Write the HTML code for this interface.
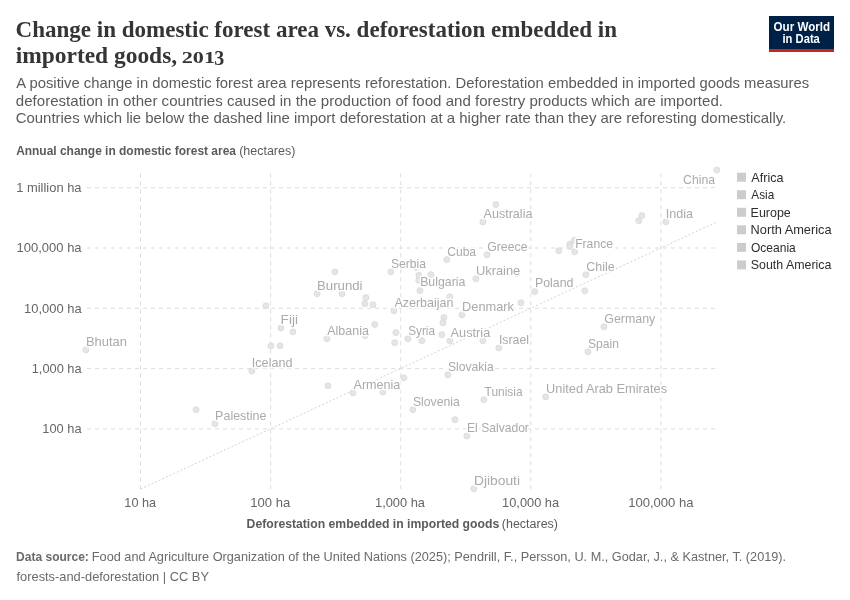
<!DOCTYPE html><html><head><meta charset="utf-8"><title>Change in domestic forest area vs. deforestation embedded in imported goods, 2013</title><style>html,body{margin:0;padding:0;background:#fff;width:850px;height:600px;overflow:hidden}svg{display:block;will-change:transform}</style></head><body>
<svg width="850" height="600" viewBox="0 0 850 600">
<rect width="850" height="600" fill="#fff"/>
<rect x="769" y="16" width="65" height="36" fill="#002147"/>
<rect x="769" y="49" width="65" height="3" fill="#c9261f"/>
<text x="15.59" y="36.9" font-family="'Liberation Serif'" font-size="24" font-weight="bold" fill="#353535" textLength="601.38" lengthAdjust="spacingAndGlyphs">Change in domestic forest area vs. deforestation embedded in</text>
<text x="15.73" y="62.8" font-family="'Liberation Serif'" font-size="24" font-weight="bold" fill="#353535" textLength="161.41" lengthAdjust="spacingAndGlyphs">imported goods,</text>
<text x="181.66" y="62.8" font-family="'Liberation Serif'" font-size="17.4" font-weight="bold" fill="#353535" textLength="33.35" lengthAdjust="spacingAndGlyphs">201</text>
<text x="214.30" y="65.3" font-family="'Liberation Serif'" font-size="21.1" font-weight="bold" fill="#353535" textLength="9.97" lengthAdjust="spacingAndGlyphs">3</text>
<text x="16.24" y="87.9" font-family="'Liberation Sans'" font-size="14.8" font-weight="normal" fill="#5b5b5b" textLength="792.97" lengthAdjust="spacingAndGlyphs">A positive change in domestic forest area represents reforestation. Deforestation embedded in imported goods measures</text>
<text x="15.81" y="105.6" font-family="'Liberation Sans'" font-size="14.8" font-weight="normal" fill="#5b5b5b" textLength="707.20" lengthAdjust="spacingAndGlyphs">deforestation in other countries caused in the production of food and forestry products which are imported.</text>
<text x="15.70" y="123.4" font-family="'Liberation Sans'" font-size="14.8" font-weight="normal" fill="#5b5b5b" textLength="770.59" lengthAdjust="spacingAndGlyphs">Countries which lie below the dashed line import deforestation at a higher rate than they are reforesting domestically.</text>
<text x="773.57" y="30.7" font-family="'Liberation Sans'" font-size="12" font-weight="bold" fill="#fff" textLength="56.55" lengthAdjust="spacingAndGlyphs">Our World</text>
<text x="782.51" y="42.8" font-family="'Liberation Sans'" font-size="12" font-weight="bold" fill="#fff" textLength="37.35" lengthAdjust="spacingAndGlyphs">in Data</text>
<text x="16.13" y="154.8" font-family="'Liberation Sans'" font-size="12" font-weight="bold" fill="#5b5b5b" textLength="219.81" lengthAdjust="spacingAndGlyphs">Annual change in domestic forest area</text>
<text x="239.18" y="154.8" font-family="'Liberation Sans'" font-size="12" font-weight="normal" fill="#5b5b5b" textLength="56.18" lengthAdjust="spacingAndGlyphs">(hectares)</text>
<text x="246.59" y="528.3" font-family="'Liberation Sans'" font-size="12" font-weight="bold" fill="#5b5b5b" textLength="252.61" lengthAdjust="spacingAndGlyphs">Deforestation embedded in imported goods</text>
<text x="501.88" y="528.3" font-family="'Liberation Sans'" font-size="12" font-weight="normal" fill="#5b5b5b" textLength="56.07" lengthAdjust="spacingAndGlyphs">(hectares)</text>
<text x="16.22" y="192.0" font-family="'Liberation Sans'" font-size="12.6" font-weight="normal" fill="#666" textLength="65.29" lengthAdjust="spacingAndGlyphs">1 million ha</text>
<text x="16.52" y="252.3" font-family="'Liberation Sans'" font-size="12.6" font-weight="normal" fill="#666" textLength="65.09" lengthAdjust="spacingAndGlyphs">100,000 ha</text>
<text x="24.02" y="312.6" font-family="'Liberation Sans'" font-size="12.6" font-weight="normal" fill="#666" textLength="57.59" lengthAdjust="spacingAndGlyphs">10,000 ha</text>
<text x="31.73" y="372.8" font-family="'Liberation Sans'" font-size="12.6" font-weight="normal" fill="#666" textLength="49.87" lengthAdjust="spacingAndGlyphs">1,000 ha</text>
<text x="42.33" y="433.0" font-family="'Liberation Sans'" font-size="12.6" font-weight="normal" fill="#666" textLength="39.19" lengthAdjust="spacingAndGlyphs">100 ha</text>
<text x="124.34" y="507.3" font-family="'Liberation Sans'" font-size="12.6" font-weight="normal" fill="#666" textLength="31.76" lengthAdjust="spacingAndGlyphs">10 ha</text>
<text x="250.21" y="507.3" font-family="'Liberation Sans'" font-size="12.6" font-weight="normal" fill="#666" textLength="40.01" lengthAdjust="spacingAndGlyphs">100 ha</text>
<text x="375.03" y="507.3" font-family="'Liberation Sans'" font-size="12.6" font-weight="normal" fill="#666" textLength="49.97" lengthAdjust="spacingAndGlyphs">1,000 ha</text>
<text x="502.13" y="507.3" font-family="'Liberation Sans'" font-size="12.6" font-weight="normal" fill="#666" textLength="56.97" lengthAdjust="spacingAndGlyphs">10,000 ha</text>
<text x="628.21" y="507.3" font-family="'Liberation Sans'" font-size="12.6" font-weight="normal" fill="#666" textLength="65.30" lengthAdjust="spacingAndGlyphs">100,000 ha</text>
<text x="751.35" y="181.5" font-family="'Liberation Sans'" font-size="12.6" font-weight="normal" fill="#2d2d2d" textLength="32.21" lengthAdjust="spacingAndGlyphs">Africa</text>
<text x="751.37" y="199.04" font-family="'Liberation Sans'" font-size="12.6" font-weight="normal" fill="#2d2d2d" textLength="22.80" lengthAdjust="spacingAndGlyphs">Asia</text>
<text x="750.57" y="216.57999999999998" font-family="'Liberation Sans'" font-size="12.6" font-weight="normal" fill="#2d2d2d" textLength="40.27" lengthAdjust="spacingAndGlyphs">Europe</text>
<text x="750.55" y="234.12" font-family="'Liberation Sans'" font-size="12.6" font-weight="normal" fill="#2d2d2d" textLength="80.96" lengthAdjust="spacingAndGlyphs">North America</text>
<text x="750.99" y="251.66" font-family="'Liberation Sans'" font-size="12.6" font-weight="normal" fill="#2d2d2d" textLength="44.79" lengthAdjust="spacingAndGlyphs">Oceania</text>
<text x="750.74" y="269.2" font-family="'Liberation Sans'" font-size="12.6" font-weight="normal" fill="#2d2d2d" textLength="80.64" lengthAdjust="spacingAndGlyphs">South America</text>
<text x="16.10" y="560.7" font-family="'Liberation Sans'" font-size="12.6" font-weight="bold" fill="#6a6a6a" textLength="72.76" lengthAdjust="spacingAndGlyphs">Data source:</text>
<text x="91.85" y="560.7" font-family="'Liberation Sans'" font-size="12.6" font-weight="normal" fill="#6a6a6a" textLength="694.26" lengthAdjust="spacingAndGlyphs">Food and Agriculture Organization of the United Nations (2025); Pendrill, F., Persson, U. M., Godar, J., &amp; Kastner, T. (2019).</text>
<text x="16.50" y="580.5" font-family="'Liberation Sans'" font-size="12.6" font-weight="normal" fill="#6a6a6a" textLength="192.47" lengthAdjust="spacingAndGlyphs">forests-and-deforestation | CC BY</text>
<g stroke="#dddddd" stroke-width="1" stroke-dasharray="4,4" fill="none">
<line x1="87" y1="187.7" x2="715" y2="187.7"/>
<line x1="87" y1="248.0" x2="715" y2="248.0"/>
<line x1="87" y1="308.3" x2="715" y2="308.3"/>
<line x1="87" y1="368.6" x2="715" y2="368.6"/>
<line x1="87" y1="428.9" x2="715" y2="428.9"/>
<line x1="140.5" y1="173.3" x2="140.5" y2="489"/>
<line x1="270.6" y1="173.3" x2="270.6" y2="489"/>
<line x1="400.7" y1="173.3" x2="400.7" y2="489"/>
<line x1="530.8" y1="173.3" x2="530.8" y2="489"/>
<line x1="660.9" y1="173.3" x2="660.9" y2="489"/>
</g>
<line x1="140.5" y1="489" x2="716" y2="222.4" stroke="#d3d3d3" stroke-width="1" stroke-dasharray="2,2"/>
<g fill="#e5e5e5" stroke="#d3d3d3" stroke-width="0.6">
<circle cx="85.9" cy="349.9" r="3.05"/>
<circle cx="196.1" cy="409.7" r="3.05"/>
<circle cx="215" cy="423.7" r="3.05"/>
<circle cx="251.9" cy="371" r="3.05"/>
<circle cx="265.9" cy="305.8" r="3.05"/>
<circle cx="280.9" cy="327.9" r="3.05"/>
<circle cx="292.9" cy="331.8" r="3.05"/>
<circle cx="270.9" cy="345.8" r="3.05"/>
<circle cx="280" cy="345.8" r="3.05"/>
<circle cx="334.9" cy="271.8" r="3.05"/>
<circle cx="317.1" cy="293.8" r="3.05"/>
<circle cx="342" cy="293.8" r="3.05"/>
<circle cx="365.9" cy="297.6" r="3.05"/>
<circle cx="364.8" cy="303.8" r="3.05"/>
<circle cx="372.9" cy="304.7" r="3.05"/>
<circle cx="390.9" cy="271.8" r="3.05"/>
<circle cx="416" cy="267.5" r="3.05"/>
<circle cx="418.9" cy="275.4" r="3.05"/>
<circle cx="430.9" cy="274.6" r="3.05"/>
<circle cx="418.8" cy="280.3" r="3.05"/>
<circle cx="419.9" cy="290.6" r="3.05"/>
<circle cx="393.9" cy="310.8" r="3.05"/>
<circle cx="374.8" cy="324.5" r="3.05"/>
<circle cx="326.9" cy="338.8" r="3.05"/>
<circle cx="365.1" cy="335.6" r="3.05"/>
<circle cx="395.9" cy="332.6" r="3.05"/>
<circle cx="407.9" cy="338.8" r="3.05"/>
<circle cx="421.8" cy="340.7" r="3.05"/>
<circle cx="394.7" cy="342.7" r="3.05"/>
<circle cx="327.9" cy="385.8" r="3.05"/>
<circle cx="352.9" cy="392.9" r="3.05"/>
<circle cx="382.9" cy="392.1" r="3.05"/>
<circle cx="403.9" cy="377.7" r="3.05"/>
<circle cx="412.9" cy="409.7" r="3.05"/>
<circle cx="443.9" cy="317.6" r="3.05"/>
<circle cx="442.9" cy="322.8" r="3.05"/>
<circle cx="441.8" cy="334.7" r="3.05"/>
<circle cx="450" cy="340.9" r="3.05"/>
<circle cx="462" cy="314.9" r="3.05"/>
<circle cx="482.9" cy="340.8" r="3.05"/>
<circle cx="498.8" cy="347.9" r="3.05"/>
<circle cx="520.9" cy="302.8" r="3.05"/>
<circle cx="447.9" cy="374.9" r="3.05"/>
<circle cx="483.8" cy="399.8" r="3.05"/>
<circle cx="455" cy="419.7" r="3.05"/>
<circle cx="466.9" cy="435.9" r="3.05"/>
<circle cx="545.7" cy="396.9" r="3.05"/>
<circle cx="587.9" cy="351.8" r="3.05"/>
<circle cx="603.9" cy="326.8" r="3.05"/>
<circle cx="584.8" cy="290.8" r="3.05"/>
<circle cx="446.8" cy="259.6" r="3.05"/>
<circle cx="449.8" cy="296.8" r="3.05"/>
<circle cx="482.9" cy="221.9" r="3.05"/>
<circle cx="495.9" cy="204.6" r="3.05"/>
<circle cx="487" cy="254.8" r="3.05"/>
<circle cx="475.9" cy="278.8" r="3.05"/>
<circle cx="517" cy="273.5" r="3.05"/>
<circle cx="534.7" cy="291.6" r="3.05"/>
<circle cx="558.8" cy="250.7" r="3.05"/>
<circle cx="569.8" cy="244.1" r="3.05"/>
<circle cx="569.7" cy="246.6" r="3.05"/>
<circle cx="574.3" cy="240.2" r="3.05"/>
<circle cx="574.7" cy="251.8" r="3.05"/>
<circle cx="585.9" cy="274.7" r="3.05"/>
<circle cx="641.8" cy="215.6" r="3.05"/>
<circle cx="638.8" cy="220.8" r="3.05"/>
<circle cx="665.9" cy="221.8" r="3.05"/>
<circle cx="716.8" cy="170" r="3.05"/>
<circle cx="473.8" cy="488.8" r="3.05"/>
</g>
<g stroke="#fff" stroke-width="3" paint-order="stroke" stroke-linejoin="round">
<text x="85.98" y="345.9" font-family="'Liberation Sans'" font-size="12.6" font-weight="normal" fill="#aaaaaa" textLength="41.02" lengthAdjust="spacingAndGlyphs">Bhutan</text>
<text x="215.12" y="419.6" font-family="'Liberation Sans'" font-size="12.6" font-weight="normal" fill="#aaaaaa" textLength="51.39" lengthAdjust="spacingAndGlyphs">Palestine</text>
<text x="251.77" y="366.7" font-family="'Liberation Sans'" font-size="12.6" font-weight="normal" fill="#aaaaaa" textLength="40.77" lengthAdjust="spacingAndGlyphs">Iceland</text>
<text x="280.63" y="323.6" font-family="'Liberation Sans'" font-size="12.6" font-weight="normal" fill="#aaaaaa" textLength="17.38" lengthAdjust="spacingAndGlyphs">Fiji</text>
<text x="317.06" y="289.7" font-family="'Liberation Sans'" font-size="12.6" font-weight="normal" fill="#aaaaaa" textLength="45.51" lengthAdjust="spacingAndGlyphs">Burundi</text>
<text x="390.90" y="267.6" font-family="'Liberation Sans'" font-size="12.6" font-weight="normal" fill="#aaaaaa" textLength="35.13" lengthAdjust="spacingAndGlyphs">Serbia</text>
<text x="420.13" y="286.4" font-family="'Liberation Sans'" font-size="12.6" font-weight="normal" fill="#aaaaaa" textLength="45.29" lengthAdjust="spacingAndGlyphs">Bulgaria</text>
<text x="394.40" y="306.5" font-family="'Liberation Sans'" font-size="12.6" font-weight="normal" fill="#aaaaaa" textLength="59.09" lengthAdjust="spacingAndGlyphs">Azerbaijan</text>
<text x="327.30" y="334.7" font-family="'Liberation Sans'" font-size="12.6" font-weight="normal" fill="#aaaaaa" textLength="41.53" lengthAdjust="spacingAndGlyphs">Albania</text>
<text x="408.23" y="334.5" font-family="'Liberation Sans'" font-size="12.6" font-weight="normal" fill="#aaaaaa" textLength="26.81" lengthAdjust="spacingAndGlyphs">Syria</text>
<text x="353.50" y="388.5" font-family="'Liberation Sans'" font-size="12.6" font-weight="normal" fill="#aaaaaa" textLength="46.82" lengthAdjust="spacingAndGlyphs">Armenia</text>
<text x="412.90" y="405.6" font-family="'Liberation Sans'" font-size="12.6" font-weight="normal" fill="#aaaaaa" textLength="46.92" lengthAdjust="spacingAndGlyphs">Slovenia</text>
<text x="462.09" y="310.5" font-family="'Liberation Sans'" font-size="12.6" font-weight="normal" fill="#aaaaaa" textLength="51.95" lengthAdjust="spacingAndGlyphs">Denmark</text>
<text x="450.60" y="336.5" font-family="'Liberation Sans'" font-size="12.6" font-weight="normal" fill="#aaaaaa" textLength="39.62" lengthAdjust="spacingAndGlyphs">Austria</text>
<text x="498.89" y="343.8" font-family="'Liberation Sans'" font-size="12.6" font-weight="normal" fill="#aaaaaa" textLength="30.20" lengthAdjust="spacingAndGlyphs">Israel</text>
<text x="447.90" y="370.6" font-family="'Liberation Sans'" font-size="12.6" font-weight="normal" fill="#aaaaaa" textLength="45.93" lengthAdjust="spacingAndGlyphs">Slovakia</text>
<text x="484.57" y="395.6" font-family="'Liberation Sans'" font-size="12.6" font-weight="normal" fill="#aaaaaa" textLength="37.98" lengthAdjust="spacingAndGlyphs">Tunisia</text>
<text x="467.05" y="431.9" font-family="'Liberation Sans'" font-size="12.6" font-weight="normal" fill="#aaaaaa" textLength="61.86" lengthAdjust="spacingAndGlyphs">El Salvador</text>
<text x="546.07" y="392.8" font-family="'Liberation Sans'" font-size="12.6" font-weight="normal" fill="#aaaaaa" textLength="120.99" lengthAdjust="spacingAndGlyphs">United Arab Emirates</text>
<text x="588.00" y="347.6" font-family="'Liberation Sans'" font-size="12.6" font-weight="normal" fill="#aaaaaa" textLength="31.00" lengthAdjust="spacingAndGlyphs">Spain</text>
<text x="604.28" y="322.6" font-family="'Liberation Sans'" font-size="12.6" font-weight="normal" fill="#aaaaaa" textLength="50.99" lengthAdjust="spacingAndGlyphs">Germany</text>
<text x="447.20" y="255.6" font-family="'Liberation Sans'" font-size="12.6" font-weight="normal" fill="#aaaaaa" textLength="28.91" lengthAdjust="spacingAndGlyphs">Cuba</text>
<text x="483.50" y="217.6" font-family="'Liberation Sans'" font-size="12.6" font-weight="normal" fill="#aaaaaa" textLength="48.92" lengthAdjust="spacingAndGlyphs">Australia</text>
<text x="487.18" y="250.5" font-family="'Liberation Sans'" font-size="12.6" font-weight="normal" fill="#aaaaaa" textLength="40.33" lengthAdjust="spacingAndGlyphs">Greece</text>
<text x="475.96" y="274.7" font-family="'Liberation Sans'" font-size="12.6" font-weight="normal" fill="#aaaaaa" textLength="44.33" lengthAdjust="spacingAndGlyphs">Ukraine</text>
<text x="534.93" y="287.4" font-family="'Liberation Sans'" font-size="12.6" font-weight="normal" fill="#aaaaaa" textLength="38.52" lengthAdjust="spacingAndGlyphs">Poland</text>
<text x="575.15" y="247.6" font-family="'Liberation Sans'" font-size="12.6" font-weight="normal" fill="#aaaaaa" textLength="37.86" lengthAdjust="spacingAndGlyphs">France</text>
<text x="586.28" y="270.6" font-family="'Liberation Sans'" font-size="12.6" font-weight="normal" fill="#aaaaaa" textLength="28.53" lengthAdjust="spacingAndGlyphs">Chile</text>
<text x="665.77" y="217.6" font-family="'Liberation Sans'" font-size="12.6" font-weight="normal" fill="#aaaaaa" textLength="27.35" lengthAdjust="spacingAndGlyphs">India</text>
<text x="683.09" y="183.5" font-family="'Liberation Sans'" font-size="12.6" font-weight="normal" fill="#aaaaaa" textLength="31.93" lengthAdjust="spacingAndGlyphs">China</text>
<text x="473.91" y="484.8" font-family="'Liberation Sans'" font-size="12.6" font-weight="normal" fill="#aaaaaa" textLength="46.12" lengthAdjust="spacingAndGlyphs">Djibouti</text>
</g>
<rect x="737" y="172.70" width="9" height="9" fill="#cccccc"/>
<rect x="737" y="190.24" width="9" height="9" fill="#cccccc"/>
<rect x="737" y="207.78" width="9" height="9" fill="#cccccc"/>
<rect x="737" y="225.32" width="9" height="9" fill="#cccccc"/>
<rect x="737" y="242.86" width="9" height="9" fill="#cccccc"/>
<rect x="737" y="260.40" width="9" height="9" fill="#cccccc"/>
</svg></body></html>
